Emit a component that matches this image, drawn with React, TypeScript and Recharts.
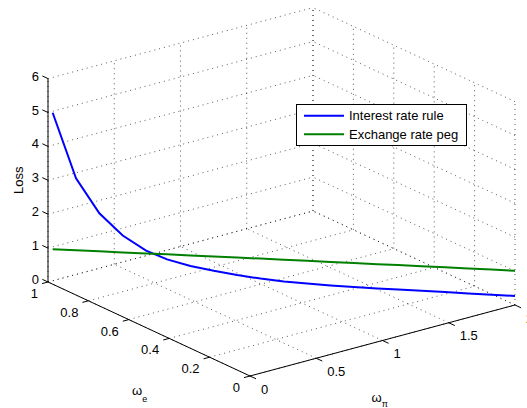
import React from "react";
import { ComposedChart, XAxis, YAxis, Line, Scatter, Legend } from "recharts";

// points along the ω_π / ω_e frontier where both regimes were evaluated
const omegaPi = [0.02, 0.12, 0.22, 0.32, 0.42, 0.51, 0.61, 0.71, 0.81, 0.91, 1.01, 1.11, 1.21, 1.31, 1.41, 1.5, 1.6, 1.7, 1.8, 1.9, 2.0];
const omegaE = [0.99, 0.94, 0.89, 0.84, 0.79, 0.745, 0.695, 0.645, 0.595, 0.545, 0.495, 0.445, 0.395, 0.345, 0.295, 0.25, 0.2, 0.15, 0.1, 0.05, 0];
const interestRateRuleLoss = [5.0, 3.1, 2.1, 1.48, 1.07, 0.84, 0.68, 0.57, 0.48, 0.41, 0.36, 0.33, 0.31, 0.3, 0.29, 0.29, 0.285, 0.28, 0.275, 0.27, 0.265];
const exchangeRatePegLoss = [0.97, 0.975, 0.98, 0.98, 0.985, 0.99, 0.99, 0.99, 0.995, 1.0, 1.0, 1.0, 1.0, 1.005, 1.005, 1.01, 1.01, 1.01, 1.01, 1.01, 1.01];

const lossTicks = [0, 1, 2, 3, 4, 5, 6];
const omegaETicks = [0, 0.2, 0.4, 0.6, 0.8, 1];
const omegaPiTicks = [0, 0.5, 1, 1.5, 2];

const SERIES = [
  { name: "Interest rate rule", color: "#0000ff", loss: interestRateRuleLoss },
  { name: "Exchange rate peg", color: "#008000", loss: exchangeRatePegLoss },
];

const W = 527;
const H = 408;
const FONT = '"Liberation Sans", Arial, Helvetica, sans-serif';

// oblique 3d view: screen shift per unit along each axis
const PI_DIR = { x: 132.5, y: 35.5 };
const E_DIR = { x: -202, y: 94 };
const LOSS_DIR = 33.9;
const PI_MAX = 2;
const E_MAX = 1;
const LOSS_MAX = 6;

type Pt = { x: number; y: number };

function project(wp: number, we: number, loss: number): Pt {
  return {
    x: PI_DIR.x * wp + E_DIR.x * we,
    y: PI_DIR.y * wp + E_DIR.y * we + LOSS_DIR * loss,
  };
}

const gridSegments: Pt[][] = [
  // floor
  ...omegaPiTicks.map((p) => [project(p, 0, 0), project(p, E_MAX, 0)]),
  ...omegaETicks.map((e) => [project(0, e, 0), project(PI_MAX, e, 0)]),
  // back wall (ω_e = 1)
  ...omegaPiTicks.map((p) => [project(p, E_MAX, 0), project(p, E_MAX, LOSS_MAX)]),
  ...lossTicks.map((z) => [project(0, E_MAX, z), project(PI_MAX, E_MAX, z)]),
  // side wall (ω_π = 2)
  ...omegaETicks.map((e) => [project(PI_MAX, e, 0), project(PI_MAX, e, LOSS_MAX)]),
  ...lossTicks.map((z) => [project(PI_MAX, 0, z), project(PI_MAX, E_MAX, z)]),
];

const axisSegments: Pt[][] = [
  [project(0, E_MAX, 0), project(0, E_MAX, LOSS_MAX)],
  [project(0, 0, 0), project(0, E_MAX, 0)],
  [project(0, 0, 0), project(PI_MAX, 0, 0)],
  ...lossTicks.map((z) => [project(0, E_MAX, z), project(0, E_MAX + 0.028, z)]),
  ...omegaETicks.map((e) => [project(0, e, 0), project(-0.045, e, 0)]),
  ...omegaPiTicks.map((p) => [project(p, 0, 0), project(p, -0.03, 0)]),
];

const lossLabels = lossTicks.map((z) => ({ ...project(0, E_MAX, z), text: String(z) }));
const omegaELabels = omegaETicks.map((e) => ({ ...project(0, e, 0), text: String(e) }));
const omegaPiLabels = omegaPiTicks.map((p) => ({ ...project(p, 0, 0), text: String(p) }));

const seriesData = SERIES.map((s) =>
  s.loss.map((v, i) => project(omegaPi[i], omegaE[i], v))
);

const textStyle = { fontFamily: FONT, fontSize: 13, fill: "#000" };

function textShape(dx: number, dy: number, anchor: "start" | "end") {
  return (props: any) => (
    <text x={props.cx + dx} y={props.cy + dy} textAnchor={anchor} style={textStyle}>
      {props.payload.text}
    </text>
  );
}

const titleAnchors = {
  loss: [project(0, E_MAX, 3)],
  omegaE: [project(0, 0.5, 0)],
  omegaPi: [project(1, 0, 0)],
};

function LegendBox() {
  return (
    <svg width={171} height={42} style={{ display: "block" }}>
      <rect x={0.5} y={0.5} width={170} height={41} fill="#fff" stroke="#000" />
      {SERIES.map((s, i) => (
        <g key={s.name}>
          <line x1={8} x2={48} y1={11.7 + i * 18.6} y2={11.7 + i * 18.6} stroke={s.color} strokeWidth={2} />
          <text x={53} y={16.3 + i * 18.6} style={textStyle}>
            {s.name}
          </text>
        </g>
      ))}
    </svg>
  );
}

export default function App() {
  return (
    <div style={{ position: "absolute", left: 0, top: 0, width: W, height: H, background: "#fff" }}>
      <ComposedChart width={W} height={H} margin={{ top: 0, right: 0, bottom: 0, left: 0 }}>
        <XAxis type="number" dataKey="x" domain={[-250, 277]} allowDataOverflow hide />
        <YAxis type="number" dataKey="y" domain={[-32, 376]} allowDataOverflow hide />

        {gridSegments.map((seg, i) => (
          <Line
            key={`grid-${i}`}
            data={seg}
            dataKey="y"
            stroke="#000"
            strokeOpacity={0.65}
            strokeWidth={1}
            strokeDasharray="1 4"
            dot={false}
            activeDot={false}
            legendType="none"
            isAnimationActive={false}
          />
        ))}

        {axisSegments.map((seg, i) => (
          <Line
            key={`axis-${i}`}
            data={seg}
            dataKey="y"
            stroke="#000"
            strokeWidth={1}
            dot={false}
            activeDot={false}
            legendType="none"
            isAnimationActive={false}
          />
        ))}

        {SERIES.map((s, i) => (
          <Line
            key={s.name}
            name={s.name}
            data={seriesData[i]}
            dataKey="y"
            stroke={s.color}
            strokeWidth={2}
            dot={false}
            activeDot={false}
            isAnimationActive={false}
          />
        ))}

        <Scatter data={lossLabels} dataKey="y" legendType="none" isAnimationActive={false} shape={textShape(-9, 2, "end")} />
        <Scatter data={omegaELabels} dataKey="y" legendType="none" isAnimationActive={false} shape={textShape(-10, 16, "end")} />
        <Scatter data={omegaPiLabels} dataKey="y" legendType="none" isAnimationActive={false} shape={textShape(11, 17.5, "start")} />

        <Scatter
          data={titleAnchors.loss}
          dataKey="y"
          legendType="none"
          isAnimationActive={false}
          shape={(p: any) => (
            <text
              x={p.cx - 25}
              y={p.cy}
              textAnchor="middle"
              transform={`rotate(-90, ${p.cx - 25}, ${p.cy})`}
              style={textStyle}
            >
              Loss
            </text>
          )}
        />
        <Scatter
          data={titleAnchors.omegaE}
          dataKey="y"
          legendType="none"
          isAnimationActive={false}
          shape={(p: any) => (
            <text x={p.cx - 17} y={p.cy + 66} style={textStyle}>
              ω<tspan dy={7} fontSize={9}>e</tspan>
            </text>
          )}
        />
        <Scatter
          data={titleAnchors.omegaPi}
          dataKey="y"
          legendType="none"
          isAnimationActive={false}
          shape={(p: any) => (
            <text x={p.cx - 11} y={p.cy + 61.5} style={textStyle}>
              ω<tspan dy={5} fontSize={9}>π</tspan>
            </text>
          )}
        />

        <Legend
          layout="horizontal"
          verticalAlign="middle"
          align="center"
          wrapperStyle={{ left: 296, top: 104, width: 171, height: 42 }}
          content={() => <LegendBox />}
        />
      </ComposedChart>
    </div>
  );
}
